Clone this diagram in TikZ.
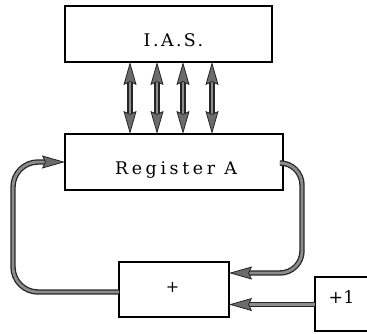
\documentclass[tikz,border=0pt]{standalone}
\usepackage{fontspec}
\usetikzlibrary{arrows.meta}
\newfontfamily\regfont[LetterSpace=21]{DejaVu Serif}
\newfontfamily\iasfont[LetterSpace=14]{DejaVu Serif}
\newfontfamily\plainfont{DejaVu Serif}
\tikzset{
  ptip/.tip={Stealth[length=23pt, width=13pt, inset=3pt, fill=black!58, line width=0.8pt]},
  blk/.style={draw=black, line width=1.6pt, fill=white, inner sep=0pt, outer sep=0pt},
  txt/.style={anchor=base, inner sep=0pt, font=\fontsize{17.4}{21}\selectfont},
  pipe/.style={draw=black!85, line width=1.3pt, double=black!45, double distance=2.8pt}
}
\begin{document}
\begin{tikzpicture}[x=1pt,y=-1pt]
\useasboundingbox (0,0) rectangle (367,333);

% boxes
\node[blk, minimum width=207pt, minimum height=56pt] (ias)  at (168.5,34) {};
\node[blk, minimum width=218pt, minimum height=56pt] (reg)  at (174,162) {};
\node[blk, minimum width=110pt, minimum height=55pt] (plus) at (174,289.5) {};
\node[blk, minimum width=55pt,  minimum height=54pt] (one)  at (342.5,304) {};

% box labels
\node[txt] (iaslbl)  at (173.5,46.7) {\iasfont I.A.S.};
\node[txt] (reglbl)  at (176,174)  {\regfont Register A};
\node[txt, anchor=center, font=\fontsize{16}{19}\selectfont] (pluslbl) at (172.5,287) {\plainfont +};
\node[txt] (onelbl)  at (341.5,303.3)  {\plainfont +1};

% bidirectional transfers between I.A.S. and Register A
\foreach \x in {130,157,183,212}
  \draw[pipe, {ptip}-{ptip}] (ias.south -| \x,0) -- (reg.north -| \x,0);

% output of the adder back into Register A
\draw[pipe, rounded corners=25pt, -{ptip}]
  (plus.west |- 0,292) -| (13,162) -- (reg.west);

% Register A into the adder
\draw[pipe, rounded corners=22pt, -{ptip}]
  (reg.east |- 0,163) -| (302,273) -- (plus.east |- 0,273);

% constant +1 into the adder
\draw[pipe, -{ptip}] (one.west |- 0,304.5) -- (plus.east |- 0,304.5);
\end{tikzpicture}
\end{document}
